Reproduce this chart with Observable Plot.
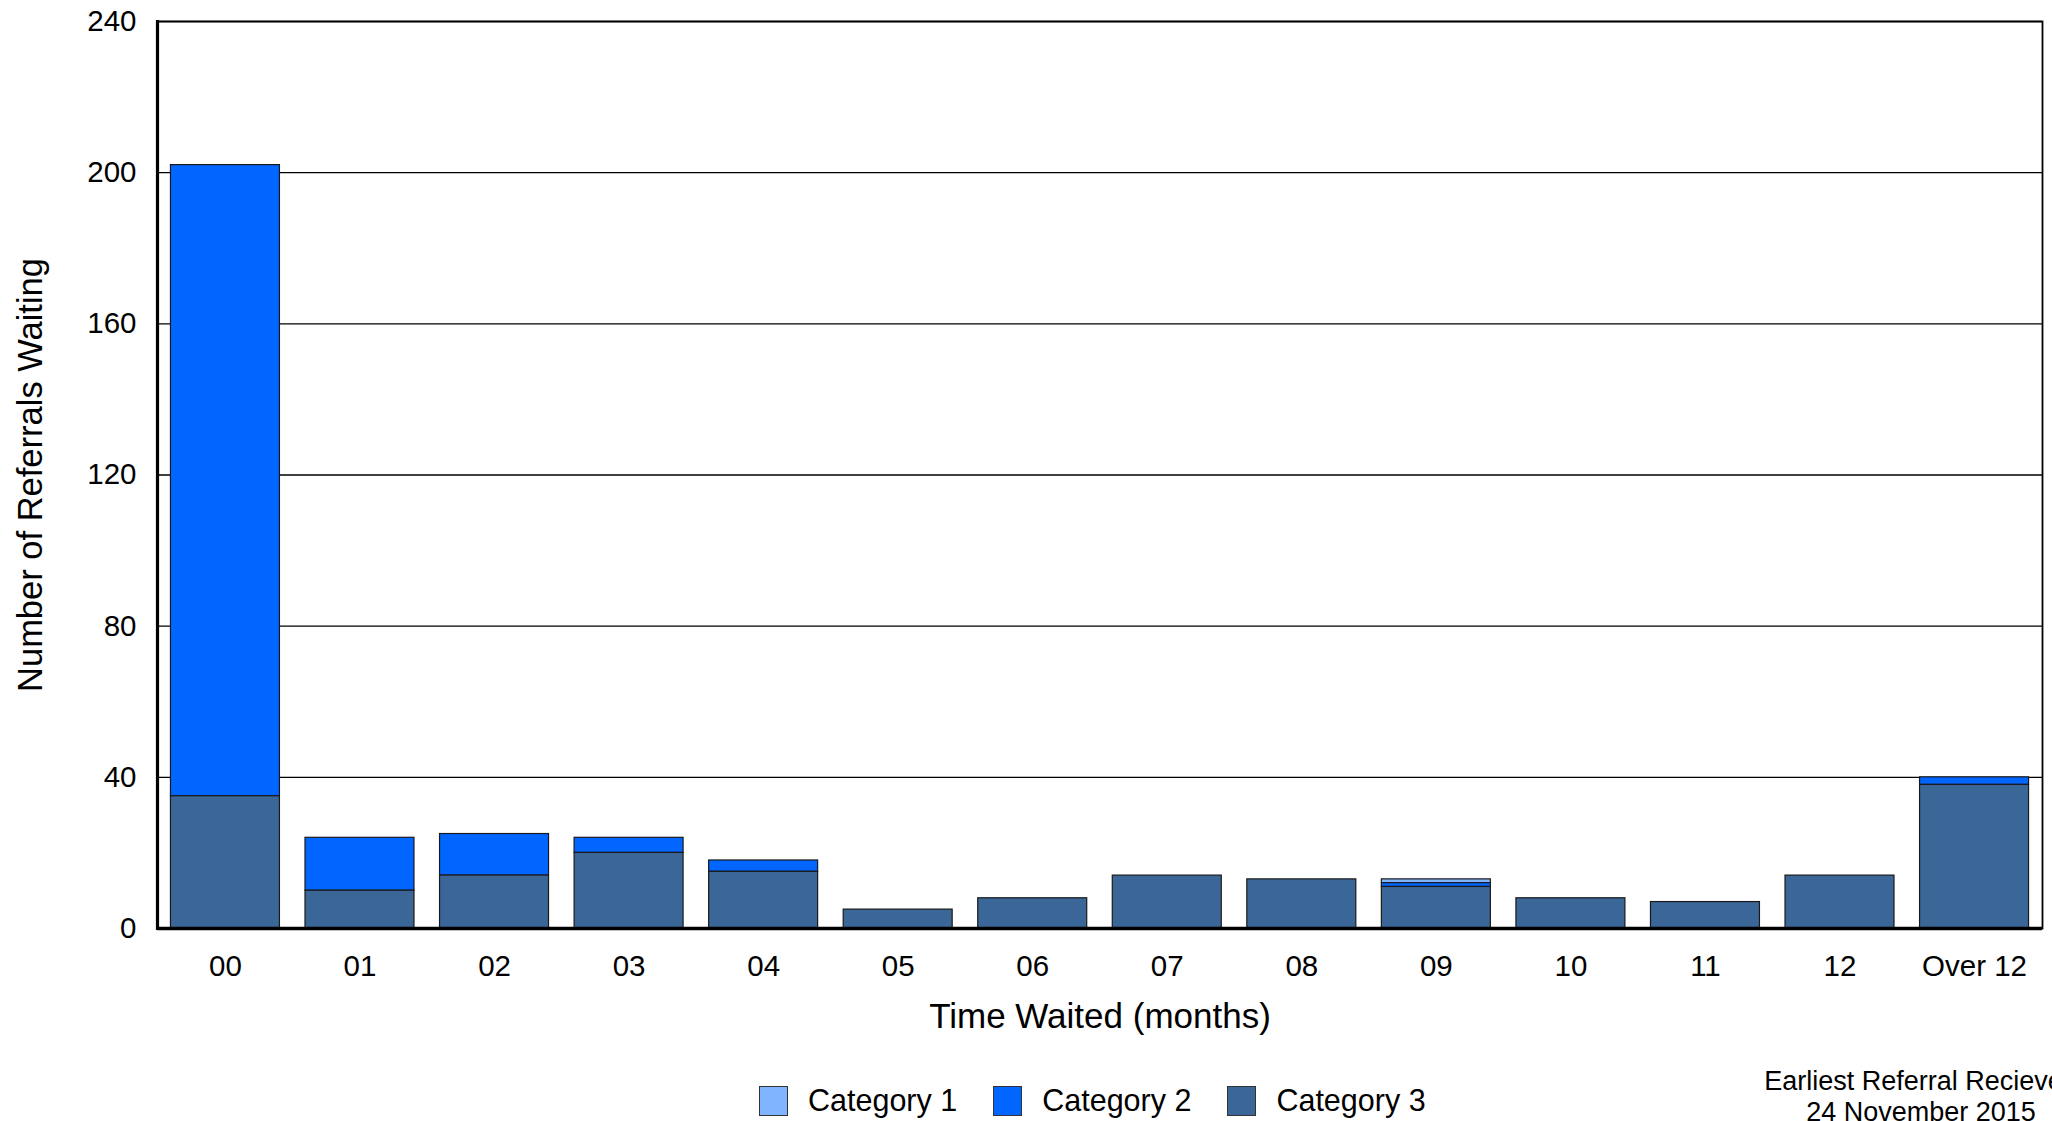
<!DOCTYPE html>
<html>
<head>
<meta charset="utf-8">
<script src="https://cdn.jsdelivr.net/npm/d3@7"></script>
<script src="https://cdn.jsdelivr.net/npm/@observablehq/plot@0.6"></script>
<style>
  html, body { margin: 0; padding: 0; background: #fff; overflow: hidden; width: 2052px; height: 1121px; }
  #wrap { position: relative; width: 2052px; height: 1121px; overflow: hidden; font-family: "Liberation Sans", Arial, sans-serif; color: #000; }
  #chart svg { display: block; }
  #legend { position: absolute; top: 1083px; left: 759px; display: flex; align-items: center; font-size: 30.5px; }
  .item { display: flex; align-items: center; margin-right: 36px; }
  .sw { width: 29px; height: 30px; border: 1.5px solid #333; box-sizing: border-box; margin-right: 20px; }
  #note { position: absolute; top: 1066px; left: 1671px; width: 500px; text-align: center; font-size: 27px; line-height: 31px; white-space: nowrap; }
</style>
</head>
<body>
<div id="wrap">
  <div id="chart"></div>
  <div id="legend"></div>
  <div id="note">Earliest Referral Recieved<br>24 November 2015</div>
</div>
<script>
const months = ["00","01","02","03","04","05","06","07","08","09","10","11","12","Over 12"];
const categories = ["Category 1","Category 2","Category 3"];
const colors = ["#80b4ff","#0066ff","#3a6698"];
const cat1 = [0,0,0,0,0,0,0,0,0,1,0,0,0,0];
const cat2 = [167,14,11,4,3,0,0,0,0,1,0,0,0,2];
const cat3 = [35,10,14,20,15,5,8,14,13,11,8,7,14,38];
const yTicks = [0,40,80,120,160,200,240];

const series = [cat1, cat2, cat3];
const rows = [];
months.forEach((m, i) => {
  categories.forEach((c, j) => {
    const v = series[j][i];
    if (v > 0) rows.push({month: m, category: c, value: v});
  });
});

const chart = Plot.plot({
  width: 2052,
  height: 1062,
  marginTop: 21,
  marginBottom: 134,
  marginLeft: 157,
  marginRight: 10,
  style: {fontFamily: "'Liberation Sans', Arial, sans-serif", fontSize: "30px", color: "#000", background: "#fff", overflow: "visible"},
  x: {domain: months, paddingInner: 0.19, paddingOuter: 0.1, round: false, label: "Time Waited (months)"},
  y: {domain: [0, 240], ticks: yTicks, label: "Number of Referrals Waiting", labelArrow: "none"},
  color: {domain: categories, range: colors},
  marks: [
    Plot.gridY(yTicks, {stroke: "#000", strokeOpacity: 1, strokeWidth: 1.3}),
    Plot.barY(rows, {x: "month", y: "value", fill: "category", stroke: "#1a1a1a", strokeWidth: 1.2,
      order: ["Category 3", "Category 2", "Category 1"]}),
    Plot.frame({stroke: "#000", strokeWidth: 1.8}),
    Plot.frame({anchor: "left", stroke: "#000", strokeWidth: 3.2}),
    Plot.ruleY([0], {stroke: "#000", strokeWidth: 3.6}),
    Plot.axisY(yTicks, {tickSize: 0, tickPadding: 21, fontSize: 29.5, label: null}),
    Plot.axisY({ticks: [], tickSize: 0, label: "Number of Referrals Waiting", labelArrow: "none", labelAnchor: "center", labelOffset: 140, fontSize: 34.5}),
    Plot.axisX({tickSize: 0, tickPadding: 27, fontSize: 29.5, label: null}),
    Plot.axisX({ticks: [], tickSize: 0, label: "Time Waited (months)", labelArrow: "none", labelAnchor: "center", labelOffset: 99, fontSize: 35})
  ]
});
document.getElementById("chart").appendChild(chart);

const legend = document.getElementById("legend");
categories.forEach((c, j) => {
  const it = document.createElement("div");
  it.className = "item";
  const sw = document.createElement("div");
  sw.className = "sw";
  sw.style.background = colors[j];
  const t = document.createElement("span");
  t.textContent = c;
  it.appendChild(sw); it.appendChild(t);
  legend.appendChild(it);
});
</script>
</body>
</html>
